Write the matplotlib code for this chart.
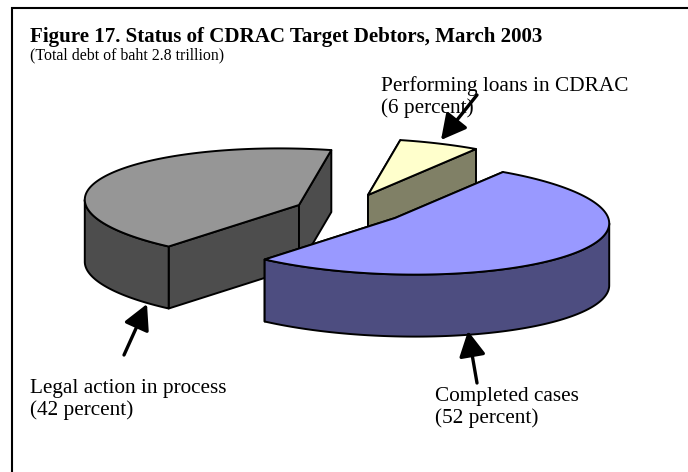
import numpy as np
import matplotlib
matplotlib.use("Agg")
import matplotlib.pyplot as plt
from matplotlib.patches import Polygon

plt.rcParams['font.family'] = ['Liberation Serif', 'DejaVu Serif']

# data
categories = ["Completed cases", "Legal action in process", "Performing loans in CDRAC"]
shares = [52, 42, 6]
title = "Figure 17. Status of CDRAC Target Debtors, March 2003"
subtitle = "(Total debt of baht 2.8 trillion)"

# style / layout
top_colors = ["#9999FF", "#969696", "#FFFFCC"]
side_colors = ["#4D4D80", "#4D4D4D", "#808066"]
centers = [(395, 218), (299, 205), (368, 195)]
draw_order = [2, 1, 0]
label_pos = [(435, 401), (30, 393), (381, 91)]
arrows = [((477, 383), (468, 331)), ((124, 355), (147, 304)), ((477, 95), (441, 140))]
AXIS_A = np.array([108.0, -46.0])
AXIS_B = np.array([185.0, 33.0])
DEPTH = 62

W, H = 688, 472
fig = plt.figure(figsize=(W / 100, H / 100), dpi=100, facecolor="white")
ax = fig.add_axes([0, 0, 1, 1])
ax.set_xlim(0, W)
ax.set_ylim(H, 0)
ax.axis("off")

# frame: top and left rules only
ax.plot([W, 12, 12], [7.5, 7.5, H], color="black", lw=1.5, solid_joinstyle="miter", zorder=1)


def rim(t0, t1, center):
    t = np.radians(np.linspace(t0, t1, 120))
    return np.array(center) + np.outer(np.cos(t), AXIS_A) + np.outer(np.sin(t), AXIS_B)


edges = np.cumsum([0] + shares) * 3.6
tl = np.degrees(np.arctan2(AXIS_B[0], AXIS_A[0]))
z = 2
for i in draw_order:
    t0, t1 = edges[i], edges[i + 1]
    c = np.array(centers[i], dtype=float)
    arc = rim(t0, t1, c)
    down = np.array([0, DEPTH])
    sty = dict(edgecolor="black", linewidth=1.4, joinstyle="round")
    # radial walls
    for end in (arc[0], arc[-1]):
        ax.add_patch(Polygon([c, end, end + down, c + down], closed=True,
                             facecolor=side_colors[i], zorder=z, **sty))
    # outer wall: only the part of the rim that faces the viewer
    lo, hi = max(t0, tl), min(t1, tl + 180)
    if hi > lo:
        a = rim(lo, hi, c)
        ax.add_patch(Polygon(np.vstack([a, (a + down)[::-1]]), closed=True,
                             facecolor=side_colors[i], zorder=z + 0.1, **sty))
    ax.add_patch(Polygon(np.vstack([c, arc]), closed=True,
                         facecolor=top_colors[i], zorder=z + 0.2, **sty))
    z += 1

# labels
serif = dict(color="black", va="baseline", ha="left", zorder=10)
for name, share, (x, y) in zip(categories, shares, label_pos):
    ax.text(x, y, name, fontsize=15.3, **serif)
    ax.text(x, y + 22, f"({share} percent)", fontsize=15.3, **serif)
ax.text(30, 42, title, fontsize=15.1, fontweight="bold", **serif)
ax.text(30, 59, subtitle, fontsize=11.4, **serif)

# pointers
for tail, tip in arrows:
    ax.annotate("", xy=tip, xytext=tail, zorder=11,
                arrowprops=dict(arrowstyle="-|>,head_length=0.85,head_width=0.45", lw=2.4,
                                color="black", shrinkA=0, shrinkB=0, mutation_scale=18))

fig.savefig("out.png", dpi=100)
